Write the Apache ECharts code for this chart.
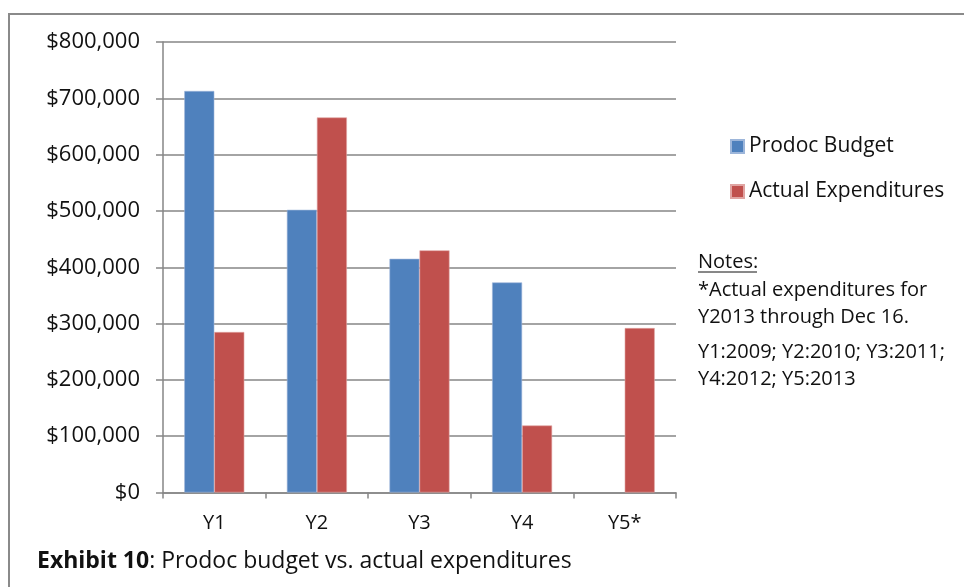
<!DOCTYPE html>
<html>
<head>
<meta charset="utf-8">
<script src="https://cdn.jsdelivr.net/npm/echarts@6/dist/echarts.min.js"></script>
<style>
html,body{margin:0;padding:0;background:#fff;}
#chart{width:964px;height:587px;}
</style>
</head>
<body>
<div id="chart"></div>
<script>
const categories = ['Y1', 'Y2', 'Y3', 'Y4', 'Y5*'];
const budget = [713000, 502000, 415000, 373000, null];
const actual = [285000, 666000, 430000, 119000, 292000];
const seriesNames = ['Prodoc Budget', 'Actual Expenditures'];
const yTicks = { min: 0, max: 800000, interval: 100000 };
const titleBold = 'Exhibit 10';
const titleRest = ': Prodoc budget vs. actual expenditures';
const notesHead = 'Notes:';
const notesLines = ['*Actual expenditures for', 'Y2013 through Dec 16.'];
const yearLines = ['Y1:2009; Y2:2010; Y3:2011;', 'Y4:2012; Y5:2013'];

const FONT = '"Open Sans", sans-serif';
const INK = '#111';
const chart = echarts.init(document.getElementById('chart'));
const grey = '#868686';

function noteText(str, y) {
  return { type: 'text', silent: true,
    style: { text: str, x: 698, y: y, font: '20px ' + FONT, fill: INK,
             verticalAlign: 'middle', align: 'left' } };
}

chart.setOption({
  backgroundColor: '#fff',
  animation: false,
  textStyle: { fontFamily: FONT, color: INK },
  title: {
    text: '{b|' + titleBold + '}' + titleRest,
    left: 37, top: 550, padding: 0,
    textStyle: {
      fontFamily: FONT, fontSize: 23, fontWeight: 'normal', color: INK,
      rich: { b: { fontFamily: FONT, fontSize: 23, fontWeight: 'bold', color: INK } }
    }
  },
  legend: {
    orient: 'vertical',
    left: 730, top: 136, padding: 0,
    itemWidth: 13, itemHeight: 13, itemGap: 24,
    icon: 'rect',
    textStyle: { fontFamily: FONT, fontSize: 21, color: INK },
    data: seriesNames
  },
  grid: { left: 163, right: 288, top: 42, bottom: 94.5, containLabel: false },
  xAxis: {
    type: 'category',
    data: categories,
    axisLine: { lineStyle: { color: grey, width: 1.5 } },
    axisTick: { show: true, length: 6, lineStyle: { color: grey, width: 1.5 } },
    axisLabel: { fontFamily: FONT, fontSize: 20, color: INK, margin: 21 }
  },
  yAxis: {
    type: 'value',
    min: yTicks.min, max: yTicks.max, interval: yTicks.interval,
    axisLine: { show: true, lineStyle: { color: grey, width: 1.5 } },
    axisTick: { show: true, length: 7, lineStyle: { color: grey, width: 1.5 } },
    splitLine: { lineStyle: { color: grey, width: 1.5 } },
    axisLabel: {
      fontFamily: FONT, fontSize: 22, color: INK, margin: 23,
      formatter: v => '$' + v.toLocaleString('en-US')
    }
  },
  series: [
    {
      name: seriesNames[0], type: 'bar', data: budget,
      barGap: '0%', barCategoryGap: '41.5%',
      itemStyle: { color: '#4F81BD', borderColor: '#9DB6DA', borderWidth: 0.6 }
    },
    {
      name: seriesNames[1], type: 'bar', data: actual,
      barGap: '0%', barCategoryGap: '41.5%',
      itemStyle: { color: '#C0504D', borderColor: '#E0A4A2', borderWidth: 0.6 }
    }
  ],
  graphic: [
    { type: 'rect', silent: true, shape: { x: 9, y: 14, width: 1000, height: 700 },
      style: { fill: 'none', stroke: '#8a8a8a', lineWidth: 2 } },
    noteText(notesHead, 262),
    { type: 'line', silent: true, shape: { x1: 698, y1: 272, x2: 757, y2: 272 },
      style: { stroke: INK, lineWidth: 1 } },
    noteText(notesLines[0], 290),
    noteText(notesLines[1], 317),
    noteText(yearLines[0], 352),
    noteText(yearLines[1], 379)
  ]
});
</script>
</body>
</html>
